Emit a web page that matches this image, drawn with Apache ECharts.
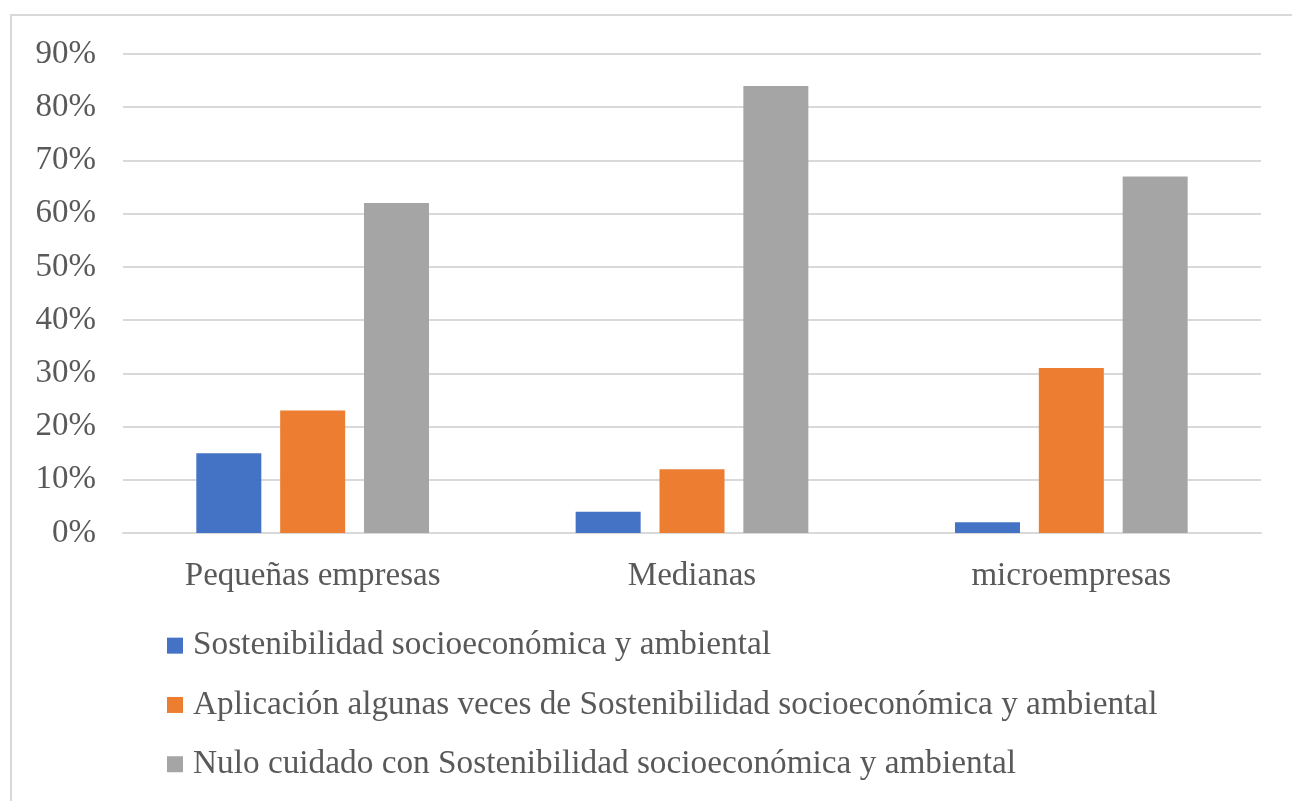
<!DOCTYPE html>
<html>
<head>
<meta charset="utf-8">
<script src="https://cdn.jsdelivr.net/npm/echarts@6/dist/echarts.min.js"></script>
<style>
  html, body { margin: 0; padding: 0; background: #fff; }
  #frame { position: absolute; left: 10px; top: 14px; width: 1282px; height: 787px;
           border-top: 2px solid #d9d9d9; border-left: 2px solid #d9d9d9; box-sizing: border-box; }
  #chart { position: absolute; left: 0; top: 0; width: 1292px; height: 801px; }
</style>
</head>
<body>
<div id="frame"></div>
<div id="chart"></div>
<script>
// Company size groups
const categories = ['Pequeñas empresas', 'Medianas', 'microempresas'];

// Series names
const seriesNames = [
  'Sostenibilidad socioeconómica y ambiental',
  'Aplicación algunas veces de Sostenibilidad socioeconómica y ambiental',
  'Nulo cuidado con Sostenibilidad socioeconómica y ambiental'
];

// Shares (%) per group
const sostenibilidad = [15, 4, 2];
const algunasVeces = [23, 12, 31];
const nuloCuidado = [62, 84, 67];

const colors = ['#4472C4', '#ED7D31', '#A5A5A5'];
const textColor = '#595959';
const fontFamily = '"Liberation Serif", "Times New Roman", serif';

const chart = echarts.init(document.getElementById('chart'), null, { renderer: 'canvas' });

const values = [sostenibilidad, algunasVeces, nuloCuidado];

chart.setOption({
  animation: false,
  backgroundColor: 'transparent',
  color: colors,
  grid: { left: 123, right: 31, top: 54, bottom: 268, containLabel: false },
  xAxis: {
    type: 'category',
    data: categories,
    axisLine: { show: true, lineStyle: { color: '#d9d9d9', width: 2 } },
    axisTick: { show: false },
    axisLabel: { color: textColor, fontFamily, fontSize: 33, margin: 27 }
  },
  yAxis: {
    type: 'value',
    min: 0,
    max: 90,
    interval: 10,
    axisLine: { show: false },
    axisTick: { show: false },
    splitLine: { lineStyle: { color: '#d9d9d9', width: 2 } },
    axisLabel: { color: textColor, fontFamily, fontSize: 33, margin: 27, formatter: '{value}%' }
  },
  legend: {
    orient: 'vertical',
    left: 162,
    top: 624,
    itemWidth: 16,
    itemHeight: 16,
    itemGap: 26,
    icon: 'rect',
    textStyle: { color: textColor, fontFamily, fontSize: 33.3, lineHeight: 33.3, padding: [0, 0, 0, 5] },
    data: seriesNames
  },
  series: seriesNames.map((name, i) => ({
    name,
    type: 'bar',
    data: values[i],
    barWidth: 65,
    barGap: '29%',
    itemStyle: { color: colors[i] }
  }))
});
</script>
</body>
</html>
